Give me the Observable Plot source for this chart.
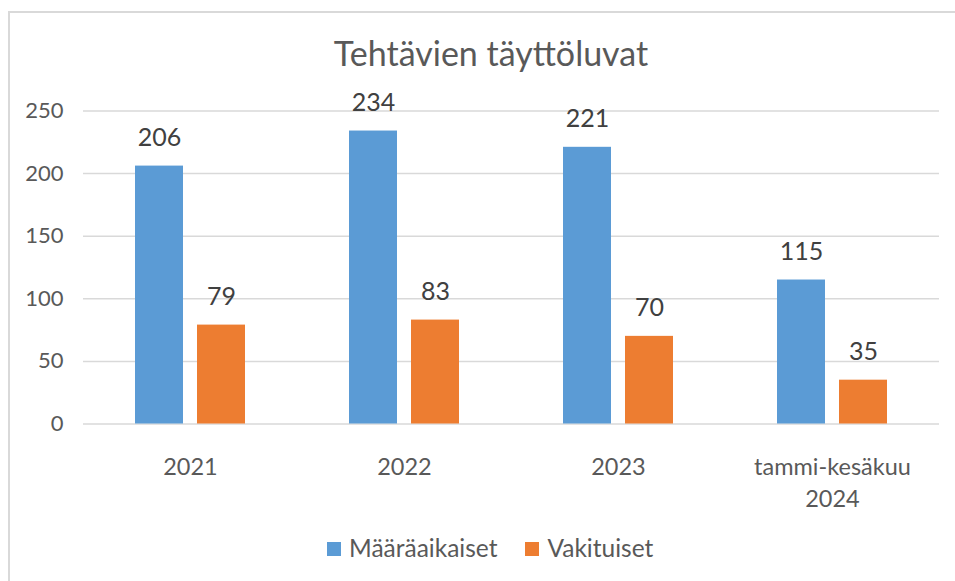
<!DOCTYPE html>
<html>
<head>
<meta charset="utf-8">
<script src="https://cdn.jsdelivr.net/npm/d3@7"></script>
<script src="https://cdn.jsdelivr.net/npm/@observablehq/plot@0.6"></script>
<style>
  html, body { margin: 0; padding: 0; background: #fff; }
  body { width: 955px; height: 581px; position: relative; overflow: hidden; font-family: Lato, "Noto Sans", sans-serif; }
  #frame { position: absolute; left: 8px; top: 11px; width: 1000px; height: 700px; border-left: 2px solid #d9d9d9; border-top: 2px solid #d9d9d9; box-sizing: border-box; }
  #title { position: absolute; left: 0; width: 982px; top: 33px; text-align: center; font-size: 34px; color: #595959; line-height: 40.8px; white-space: nowrap; }
  #chart { position: absolute; left: 0; top: 0; }
  #legend { position: absolute; left: 327px; top: 533px; display: flex; align-items: center; font-size: 24.5px; color: #595959; line-height: 29px; white-space: nowrap; }
  .item { display: flex; align-items: center; margin-right: 28px; }
  .sw { width: 14px; height: 14px; margin-right: 8px; margin-top: 2px; }
</style>
</head>
<body>
<div id="frame"></div>
<div id="chart"></div>
<div id="title">Tehtävien täyttöluvat</div>
<div id="legend"></div>
<script>
const categories = ["2021", "2022", "2023", "tammi-kesäkuu\n2024"];
const series = ["Määräaikaiset", "Vakituiset"];
const maaraaikaiset = [206, 234, 221, 115];
const vakituiset = [79, 83, 70, 35];
const colors = ["#5B9BD5", "#ED7D31"];
const yTicks = [0, 50, 100, 150, 200, 250];

const data = [];
categories.forEach((c, i) => {
  data.push({cat: c, series: series[0], value: maaraaikaiset[i]});
  data.push({cat: c, series: series[1], value: vakituiset[i]});
});

const chart = Plot.plot({
  width: 955,
  height: 520,
  marginTop: 110.5,
  marginBottom: 96.5,
  marginLeft: 83,
  marginRight: 16,
  style: { fontFamily: "Lato, 'Noto Sans', sans-serif", background: "transparent" },
  fx: { domain: categories, padding: 0, label: null },
  x: { domain: series, paddingInner: 0.226, paddingOuter: 0.83, axis: null },
  y: { domain: [0, 250], ticks: yTicks, label: null },
  color: { domain: series, range: colors },
  marks: [
    Plot.gridY(yTicks, { stroke: "#d9d9d9", strokeOpacity: 1, strokeWidth: 1.5 }),
    Plot.axisY(yTicks, { tickSize: 0, tickPadding: 20, fontSize: 22, color: "#595959", label: null }),
    Plot.axisFx({ anchor: "bottom", tickSize: 0, tickPadding: 28.5, fontSize: 23.5, color: "#595959", lineHeight: 1.35, label: null }),
    Plot.barY(data, { fx: "cat", x: "series", y: "value", fill: "series" }),
    Plot.text(data, { fx: "cat", x: "series", y: "value", text: d => String(d.value), dy: -28, fontSize: 25, fill: "#404040", lineAnchor: "middle" })
  ]
});
document.getElementById("chart").appendChild(chart);

const legend = document.getElementById("legend");
series.forEach((s, i) => {
  const item = document.createElement("div");
  item.className = "item";
  const sw = document.createElement("div");
  sw.className = "sw";
  sw.style.background = colors[i];
  const t = document.createElement("span");
  t.textContent = s;
  item.appendChild(sw);
  item.appendChild(t);
  legend.appendChild(item);
});
</script>
</body>
</html>
